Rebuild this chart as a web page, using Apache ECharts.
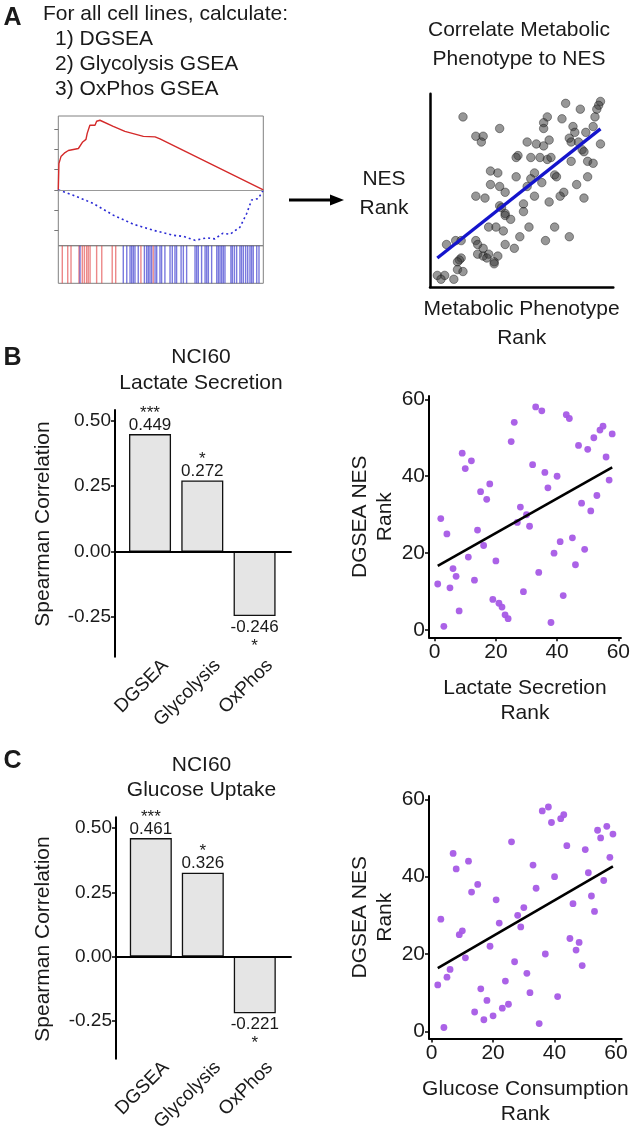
<!DOCTYPE html>
<html><head><meta charset="utf-8">
<script src="https://cdn.jsdelivr.net/npm/echarts@6/dist/echarts.min.js"></script>
<style>html,body{margin:0;padding:0;background:#fff}#c{width:633px;height:1134px}</style>
</head><body><div id="c"></div><script>
// ---------- Panel A: GSEA schematic ----------
const esPositive = [[0,0],[0.3,0.26],[1.3,0.33],[3.3,0.37],[4.9,0.39],[9.8,0.41],[11.9,0.475],[13.5,0.5],[14.1,0.56],[15.4,0.64],[17.9,0.64],[18.7,0.68],[20.3,0.69],[26.8,0.63],[32.5,0.58],[41.5,0.53],[47.2,0.525],[49.6,0.505],[100,0]];
const esNegative = [[0,0],[7.3,-0.053],[17.1,-0.135],[26.8,-0.25],[36.6,-0.34],[46.3,-0.40],[56.1,-0.45],[61,-0.46],[66.7,-0.50],[72.4,-0.475],[76.4,-0.485],[80.2,-0.43],[83.7,-0.44],[88.6,-0.37],[91.9,-0.234],[94.3,-0.10],[97.6,-0.086],[100,0]];
const hitsRed = [1.95,4.6,6.2,10.1,11.7,12.7,13.8,14.6,15.5,18.7,21.2,26.3,28,40.3,46.3];
const hitsBlue = [10.6,31.7,33.4,35,35.8,36.6,37.4,39,42,43.1,43.9,44.7,45.5,47.2,48,49.6,50.4,52,54.5,55.6,56.9,57.7,59.9,61,62.6,66.7,67.5,68.3,69.9,71.6,72.4,73.2,74.8,77.3,78.1,78.9,79.7,80.5,81.3,84.2,84.9,85.9,87,88.6,89.4,90.3,91.4,92.4,93.5,94.3,95.1,96.8,97.9];
const esTicks = [-0.4,-0.2,0,0.2,0.4,0.6];

// ---------- Panel A: schematic scatter ----------
const metabolicRank = [74,82,93,92,91,90,18,64,72,62,62,38,78,89,85,79,25,29,28,53,58,62,65,76,77,81,93,83,84,48,47,55,60,64,66,77,86,89,33,37,57,55,61,68,69,47,86,33,38,53,80,41,73,71,25,30,57,84,51,65,38,39,51,41,41,44,32,36,54,68,40,49,63,76,14,17,9,25,26,41,29,46,26,29,32,37,31,17,16,15,35,35,15,18,4,8,6,13];
const nesRankA     = [95,92,96,94,92,88,88,88,87,85,82,82,83,83,80,80,78,78,75,75,74,73,76,77,75,75,74,71,70,68,67,67,67,66,67,65,65,64,60,59,59,56,54,58,57,57,57,53,52,52,53,49,49,47,47,46,47,46,43,44,42,41,39,38,37,35,31,31,31,31,29,26,24,26,24,24,22,24,22,22,20,20,17,16,17,16,15,15,14,13,13,12,9,8,6,6,4,4];

// ---------- Panels B / C: bars ----------
const barCategories = ['DGSEA','Glycolysis','OxPhos'];
const lactateRho = [0.449, 0.272, -0.246];
const lactateStars = ['***','*','*'];
const glucoseRho = [0.461, 0.326, -0.221];
const glucoseStars = ['***','*','*'];
const corrTicks = [-0.25, 0, 0.25, 0.5];

// ---------- Panels B / C: scatter ----------
const lactateRank = [1,2,3,4,5,6,7,8,9,10,11,12,13,14,15,16,17,18,19,20,21,22,23,24,25,26,27,28,29,30,31,32,33,34,35,36,37,38,39,40,41,42,43,44,45,46,47,48,49,50,51,52,53,54,55,56,57,58];
const lactateNES  = [12,29,1,25,11,16,14,5,46,42,19,44,13,26,36,22,34,38,8,18,7,6,4,3,49,54,28,32,10,30,27,43,58,15,57,41,37,2,20,40,23,9,56,55,24,17,48,33,21,47,31,50,35,52,53,45,39,51];
const glucoseRank = [2,3,4,5,6,7,8,9,10,11,12,13,14,15,16,17,18,19,20,21,22,23,24,25,26,27,28,29,30,31,32,33,34,35,36,37,38,39,40,41,42,43,44,45,46,47,48,49,50,51,52,53,54,55,56,57,58,59];
const glucoseNES  = [12,29,1,14,16,46,42,25,26,19,44,36,5,38,11,3,8,22,4,34,28,6,13,7,49,18,30,27,32,15,10,43,37,2,57,20,58,54,40,9,55,56,48,24,33,21,23,17,47,41,35,31,52,50,39,53,45,51];
const rankTicks = [0,20,40,60];

// ---------- helpers ----------
const FONT = '"Liberation Sans", Arial, Helvetica, sans-serif';
const TXT = '#1a1a1a';
function zip(a,b){return a.map((v,i)=>[v,b[i]]);}
function fit(xs, ys){
  const n = xs.length;
  const mx = xs.reduce((s,v)=>s+v,0)/n, my = ys.reduce((s,v)=>s+v,0)/n;
  let sxy=0, sxx=0;
  for(let i=0;i<n;i++){sxy+=(xs[i]-mx)*(ys[i]-my); sxx+=(xs[i]-mx)*(xs[i]-mx);}
  const b = sxy/sxx, a = my-b*mx;
  const x0 = Math.min(...xs), x1 = Math.max(...xs);
  return [[x0,a+b*x0],[x1,a+b*x1]];
}
function barcode(hits, color, xi, yi){
  return {type:'custom', xAxisIndex:xi, yAxisIndex:yi, silent:true,
    data: hits.map(h=>[h]), encode:{x:0},
    renderItem:(params, api)=>{
      const p0 = api.coord([api.value(0), 0]);
      const p1 = api.coord([api.value(0), 1]);
      return {type:'line', shape:{x1:p0[0],y1:p0[1],x2:p1[0],y2:p1[1]},
        style:{stroke:color, lineWidth:1.4, opacity:0.6}};
    }};
}
function barSeries(vals, stars, xi, yi){
  return {type:'bar', xAxisIndex:xi, yAxisIndex:yi, barWidth:42, silent:true,
    itemStyle:{color:'#e5e5e5', borderColor:'#111', borderWidth:1.3},
    data: vals.map((v,i)=>({value:[i+1, v],
      label: v>=0 ? {show:true, position:'top', distance:1,
                     formatter:'{s|'+stars[i]+'}\n{v|'+v.toFixed(3)+'}'}
                  : {show:true, position:'bottom', distance:3,
                     formatter:'{v|'+v.toFixed(3)+'}\n{t|'+stars[i]+'}'}})),
    label:{fontFamily:FONT, color:TXT, rich:{
      v:{fontSize:17, lineHeight:16, fontFamily:FONT, color:TXT},
      s:{fontSize:17, lineHeight:8, fontFamily:FONT, color:TXT},
      t:{fontSize:17, lineHeight:22, fontFamily:FONT, color:TXT}}},
    markLine:{silent:true, symbol:'none', label:{show:false},
      lineStyle:{color:'#000', width:2, type:'solid'}, data:[{yAxis:0}]}
  };
}
const blackLine = {show:true, onZero:false, lineStyle:{color:'#000', width:2}};
function barXAxis(gi){
  return {type:'value', gridIndex:gi, min:0.33, max:3.71, splitLine:{show:false},
    axisLine:{show:false, onZero:false}, axisTick:{show:false},
    axisLabel:{show:true, customValues:[1.29,2.29,3.29], rotate:45, margin:6,
      fontFamily:FONT, fontSize:19, color:TXT,
      formatter:v=>barCategories[Math.round(v-0.29)-1]}};
}
function barYAxis(gi, mn, mx){
  return {type:'value', gridIndex:gi, min:mn, max:mx, splitLine:{show:false},
    axisLine:blackLine,
    axisTick:{show:true, length:4, customValues:corrTicks, lineStyle:{color:'#000', width:1.5}},
    axisLabel:{show:true, customValues:corrTicks, margin:4, fontFamily:FONT, fontSize:19, color:TXT,
      formatter:v=>v.toFixed(2)}};
}
function rankAxis(gi, mn, mx, name, isX){
  const ax = {type:'value', gridIndex:gi, min:mn, max:mx, splitLine:{show:false},
    axisLine:blackLine,
    axisTick:{show:true, length:4, customValues:rankTicks, lineStyle:{color:'#000', width:1.5}},
    axisLabel:{show:true, customValues:rankTicks, margin:4, fontFamily:FONT, fontSize:21, color:TXT},
    name:name, nameLocation:'middle',
    nameTextStyle:{fontFamily:FONT, fontSize:21, color:TXT, lineHeight:25}};
  ax.nameGap = isX ? 38 : 30;
  return ax;
}
function txt(text, x, y, opts){
  opts = opts||{};
  return {type:'text', x:x, y:y, rotation:opts.rot||0, silent:true,
    style:{text:text, fill:TXT, font:(opts.bold?'bold ':'')+(opts.size||21)+'px '+FONT,
      textAlign:opts.align||'center', textVerticalAlign:'middle'}};
}

const chart = echarts.init(document.getElementById('c'), null, {renderer:'canvas'});
const option = {
  backgroundColor:'#fff',
  animation:false,
  grid:[
    {left:58.3, top:116, width:205, height:129.7, show:true, borderColor:'#808080', borderWidth:1},
    {left:58.3, top:245.7, width:205, height:37.6, show:true, borderColor:'#808080', borderWidth:1},
    {left:430, top:93.7, width:183.3, height:193.3},
    {left:115, top:410, width:176.7, height:246.7},
    {left:429, top:396, width:192.7, height:241.3},
    {left:116, top:817.3, width:175.7, height:246},
    {left:429, top:796, width:192.7, height:242.5}
  ],
  xAxis:[
    {type:'value', gridIndex:0, min:0, max:100, show:false},
    {type:'value', gridIndex:1, min:0, max:100, show:false},
    {type:'value', gridIndex:2, min:0, max:100, splitLine:{show:false},
      axisLine:{show:true, onZero:false, lineStyle:{color:'#000', width:2.5}},
      axisTick:{show:false}, axisLabel:{show:false},
      name:'Metabolic Phenotype\nRank', nameLocation:'middle', nameGap:8,
      nameTextStyle:{fontFamily:FONT, fontSize:21, color:TXT, lineHeight:29}},
    barXAxis(3),
    rankAxis(4, -1.85, 60.85, 'Lactate Secretion\nRank', true),
    barXAxis(5),
    rankAxis(6, -0.85, 61.85, 'Glucose Consumption\nRank', true)
  ],
  yAxis:[
    {type:'value', gridIndex:0, min:-0.553, max:0.732, splitLine:{show:false},
      axisLine:{show:false},
      axisTick:{show:true, length:4, customValues:esTicks, lineStyle:{color:'#777', width:1}},
      axisLabel:{show:false}},
    {type:'value', gridIndex:1, min:0, max:1, show:false},
    {type:'value', gridIndex:2, min:0, max:100, splitLine:{show:false},
      axisLine:{show:true, onZero:false, lineStyle:{color:'#000', width:2.5}},
      axisTick:{show:false}, axisLabel:{show:false}},
    barYAxis(3, -0.401, 0.541),
    rankAxis(4, -1.85, 60.85, 'DGSEA NES\nRank', false),
    barYAxis(5, -0.3975, 0.542),
    rankAxis(6, -1.85, 60.85, 'DGSEA NES\nRank', false)
  ],
  series:[
    {type:'line', xAxisIndex:0, yAxisIndex:0, data:esPositive, symbol:'none', silent:true,
      lineStyle:{color:'#d42a2a', width:1.4},
      markLine:{silent:true, symbol:'none', label:{show:false},
        lineStyle:{color:'#999', width:1, type:'solid'}, data:[{yAxis:0}]}},
    {type:'line', xAxisIndex:0, yAxisIndex:0, data:esNegative, symbol:'none', silent:true,
      lineStyle:{color:'#2a2ad4', width:1.6, type:[2,3]}},
    barcode(hitsRed, '#e0383a', 1, 1),
    barcode(hitsBlue, '#2020c8', 1, 1),
    {type:'scatter', xAxisIndex:2, yAxisIndex:2, data:zip(metabolicRank, nesRankA), symbolSize:8.5, silent:true,
      itemStyle:{color:'rgba(55,55,55,0.65)', borderColor:'rgba(15,15,15,0.65)', borderWidth:0.8}},
    {type:'line', xAxisIndex:2, yAxisIndex:2, data:fit(metabolicRank, nesRankA), symbol:'none', silent:true,
      lineStyle:{color:'#1414cc', width:3.3}},
    barSeries(lactateRho, lactateStars, 3, 3),
    {type:'scatter', xAxisIndex:4, yAxisIndex:4, data:zip(lactateRank, lactateNES), symbolSize:6.8, silent:true,
      itemStyle:{color:'#a65ae6', opacity:0.95}},
    {type:'line', xAxisIndex:4, yAxisIndex:4, data:fit(lactateRank, lactateNES), symbol:'none', silent:true,
      lineStyle:{color:'#000', width:2.6}},
    barSeries(glucoseRho, glucoseStars, 5, 5),
    {type:'scatter', xAxisIndex:6, yAxisIndex:6, data:zip(glucoseRank, glucoseNES), symbolSize:6.8, silent:true,
      itemStyle:{color:'#a65ae6', opacity:0.95}},
    {type:'line', xAxisIndex:6, yAxisIndex:6, data:fit(glucoseRank, glucoseNES), symbol:'none', silent:true,
      lineStyle:{color:'#000', width:2.6}}
  ],
  graphic:[
    txt('A', 12.5, 18, {bold:true, size:25}),
    txt('For all cell lines, calculate:', 43, 14, {align:'left'}),
    txt('1) DGSEA', 55, 39, {align:'left'}),
    txt('2) Glycolysis GSEA', 55, 64, {align:'left'}),
    txt('3) OxPhos GSEA', 55, 89, {align:'left'}),
    txt('Correlate Metabolic', 519, 30),
    txt('Phenotype to NES', 519, 59),
    txt('NES', 384, 179),
    txt('Rank', 384, 208),
    {type:'line', silent:true, shape:{x1:289, y1:200, x2:333, y2:200}, style:{stroke:'#000', lineWidth:3}},
    {type:'polygon', silent:true, shape:{points:[[330,194.5],[344,200],[330,205.5]]}, style:{fill:'#000'}},
    txt('B', 12.5, 358, {bold:true, size:25}),
    txt('NCI60', 201, 357),
    txt('Lactate Secretion', 201, 383),
    txt('Spearman Correlation', 43.5, 524, {rot:Math.PI/2}),
    txt('C', 12.5, 761, {bold:true, size:25}),
    txt('NCI60', 201.5, 765),
    txt('Glucose Uptake', 201.5, 790),
    txt('Spearman Correlation', 43.5, 939, {rot:Math.PI/2})
  ]
};
chart.setOption(option);
</script></body></html>
